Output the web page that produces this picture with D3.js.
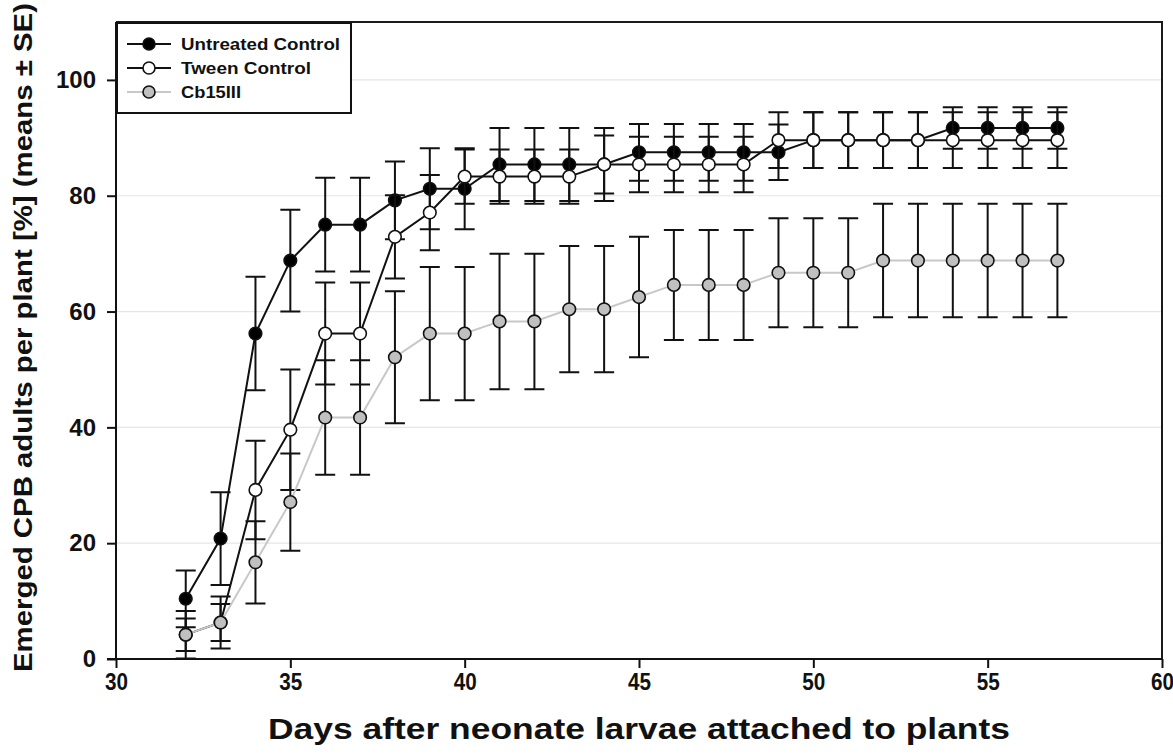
<!DOCTYPE html>
<html>
<head>
<meta charset="utf-8">
<script src="https://cdn.jsdelivr.net/npm/d3@7"></script>
<style>
  html, body { margin: 0; padding: 0; background: #fff; }
  svg { display: block; }
  text { font-family: "Liberation Sans", Arial, sans-serif; font-weight: bold; fill: #111; }
</style>
</head>
<body>
<svg id="chart" width="1173" height="756"></svg>
<script>
// Days after neonate larvae were attached to plants
const days = [32, 33, 34, 35, 36, 37, 38, 39, 40, 41, 42, 43, 44, 45, 46, 47, 48, 49, 50, 51, 52, 53, 54, 55, 56, 57];

// Emerged adults per plant [%], means and standard errors
const untreatedMean = [10.4, 20.8, 56.2, 68.8, 75.0, 75.0, 79.2, 81.2, 81.2, 85.4, 85.4, 85.4, 85.4, 87.5, 87.5, 87.5, 87.5, 87.5, 89.6, 89.6, 89.6, 89.6, 91.7, 91.7, 91.7, 91.7];
const untreatedSE   = [4.9, 8.0, 9.8, 8.8, 8.1, 8.1, 6.7, 7.0, 7.0, 6.3, 6.3, 6.3, 6.3, 4.9, 4.9, 4.9, 4.9, 4.8, 4.8, 4.8, 4.8, 4.8, 3.6, 3.6, 3.6, 3.6];

const tweenMean = [4.2, 6.3, 29.2, 39.6, 56.2, 56.2, 72.9, 77.1, 83.3, 83.3, 83.3, 83.3, 85.4, 85.4, 85.4, 85.4, 85.4, 89.6, 89.6, 89.6, 89.6, 89.6, 89.6, 89.6, 89.6, 89.6];
const tweenSE   = [4.1, 4.5, 8.5, 10.4, 8.8, 8.8, 7.2, 6.5, 4.7, 4.7, 4.7, 4.7, 5.0, 4.8, 4.8, 4.8, 4.8, 4.8, 4.8, 4.8, 4.8, 4.8, 4.8, 4.8, 4.8, 4.8];

const cbMean = [4.2, 6.3, 16.7, 27.1, 41.7, 41.7, 52.1, 56.2, 56.2, 58.3, 58.3, 60.4, 60.4, 62.5, 64.6, 64.6, 64.6, 66.7, 66.7, 66.7, 68.8, 68.8, 68.8, 68.8, 68.8, 68.8];
const cbSE   = [2.8, 3.2, 7.1, 8.4, 9.9, 9.9, 11.4, 11.5, 11.5, 11.7, 11.7, 10.9, 10.9, 10.4, 9.5, 9.5, 9.5, 9.4, 9.4, 9.4, 9.8, 9.8, 9.8, 9.8, 9.8, 9.8];

const seriesNames = ["Untreated Control", "Tween Control", "Cb15III"];

// Axis ticks
const xTicks = [30, 35, 40, 45, 50, 55, 60];
const yTicks = [0, 20, 40, 60, 80, 100];
const xDomain = [30, 60];
const yDomain = [0, 110];

const xTitle = "Days after neonate larvae attached to plants";
const yTitle = "Emerged CPB adults per plant [%] (means \u00b1 SE)";

// Series styling (drawn in this order)
const series = [
  { name: seriesNames[0], mean: untreatedMean, se: untreatedSE, fill: "#000000", line: "#111111", labelW: 159 },
  { name: seriesNames[1], mean: tweenMean,     se: tweenSE,     fill: "#ffffff", line: "#111111", labelW: 130 },
  { name: seriesNames[2], mean: cbMean,        se: cbSE,        fill: "#c0c0c0", line: "#c8c8c8", labelW: 60 }
];

const svg = d3.select("#chart");
const plotL = 116, plotR = 1162, plotT = 22, plotB = 659;

const x = d3.scaleLinear().domain(xDomain).range([plotL, plotR]);
const y = d3.scaleLinear().domain(yDomain).range([plotB, plotT]);

// Horizontal grid lines
svg.append("g")
  .selectAll("line")
  .data(yTicks.filter(t => t > 0))
  .join("line")
  .attr("x1", plotL).attr("x2", plotR)
  .attr("y1", d => y(d)).attr("y2", d => y(d))
  .attr("stroke", "#e6e6e6").attr("stroke-width", 1.2);

// Frame (top and right)
svg.append("path")
  .attr("d", `M${plotL},${plotT}H${plotR}V${plotB}`)
  .attr("fill", "none").attr("stroke", "#1a1a1a").attr("stroke-width", 2);

// Axes
const xAxis = svg.append("g")
  .attr("transform", `translate(0,${plotB})`)
  .call(d3.axisBottom(x).tickValues(xTicks).tickSize(9).tickPadding(5).tickSizeOuter(0));
xAxis.select(".domain").attr("stroke", "#111").attr("stroke-width", 2).attr("d", `M${plotL - 9},0H${plotR}`);
xAxis.selectAll(".tick line").attr("stroke", "#111").attr("stroke-width", 2);
xAxis.selectAll(".tick text")
  .attr("font-size", 24).attr("font-family", "Liberation Sans, Arial, sans-serif").attr("font-weight", "bold")
  .attr("fill", "#111")
  .attr("textLength", 23).attr("lengthAdjust", "spacingAndGlyphs");

const yAxis = svg.append("g")
  .attr("transform", `translate(${plotL},0)`)
  .call(d3.axisLeft(y).tickValues(yTicks).tickSize(9).tickPadding(11).tickSizeOuter(0));
yAxis.select(".domain").attr("stroke", "#111").attr("stroke-width", 2).attr("d", `M0,${plotB}V${plotT}`);
yAxis.selectAll(".tick line").attr("stroke", "#111").attr("stroke-width", 2);
yAxis.selectAll(".tick text")
  .attr("font-size", 24).attr("font-family", "Liberation Sans, Arial, sans-serif").attr("font-weight", "bold")
  .attr("fill", "#111");

// Axis titles
svg.append("text")
  .attr("x", (plotL + plotR) / 2).attr("y", 739)
  .attr("text-anchor", "middle")
  .attr("font-size", 30)
  .attr("textLength", 742).attr("lengthAdjust", "spacingAndGlyphs")
  .text(xTitle);

svg.append("text")
  .attr("transform", `translate(32,${(plotT + plotB) / 2 - 3}) rotate(-90)`)
  .attr("text-anchor", "middle")
  .attr("font-size", 26)
  .attr("textLength", 669).attr("lengthAdjust", "spacingAndGlyphs")
  .text(yTitle);

// Data: error bars, connecting line, markers per series
const capHalf = 10;
const r = 6.3;
series.forEach(s => {
  const pts = days.map((d, i) => ({ d, m: s.mean[i], e: s.se[i] }));
  const g = svg.append("g");

  const eb = g.append("g").attr("stroke", "#111").attr("stroke-width", 2).attr("fill", "none");
  eb.selectAll("path")
    .data(pts)
    .join("path")
    .attr("d", p => {
      const cx = x(p.d), y1 = y(p.m + p.e), y0 = y(Math.max(0, p.m - p.e));
      return `M${cx},${y1}V${y0}M${cx - capHalf},${y1}H${cx + capHalf}M${cx - capHalf},${y0}H${cx + capHalf}`;
    });

  g.append("path")
    .datum(pts)
    .attr("fill", "none")
    .attr("stroke", s.line)
    .attr("stroke-width", 2)
    .attr("d", d3.line().x(p => x(p.d)).y(p => y(p.m)));

  g.selectAll("circle")
    .data(pts)
    .join("circle")
    .attr("cx", p => x(p.d)).attr("cy", p => y(p.m)).attr("r", r)
    .attr("fill", s.fill).attr("stroke", "#111").attr("stroke-width", 1.6);
});

// Legend
const lg = svg.append("g");
lg.append("rect")
  .attr("x", 117).attr("y", 23).attr("width", 234).attr("height", 90)
  .attr("fill", "#fff").attr("stroke", "#111").attr("stroke-width", 2);

const rowY = [44, 68, 92];
series.forEach((s, i) => {
  const ry = rowY[i];
  lg.append("line")
    .attr("x1", 127).attr("x2", 171).attr("y1", ry).attr("y2", ry)
    .attr("stroke", s.line).attr("stroke-width", 2);
  lg.append("circle")
    .attr("cx", 149).attr("cy", ry).attr("r", 6)
    .attr("fill", s.fill).attr("stroke", "#111").attr("stroke-width", 1.6);
  lg.append("text")
    .attr("x", 181).attr("y", ry + 6)
    .attr("font-size", 17)
    .attr("textLength", s.labelW).attr("lengthAdjust", "spacingAndGlyphs")
    .text(s.name);
});
</script>
</body>
</html>
